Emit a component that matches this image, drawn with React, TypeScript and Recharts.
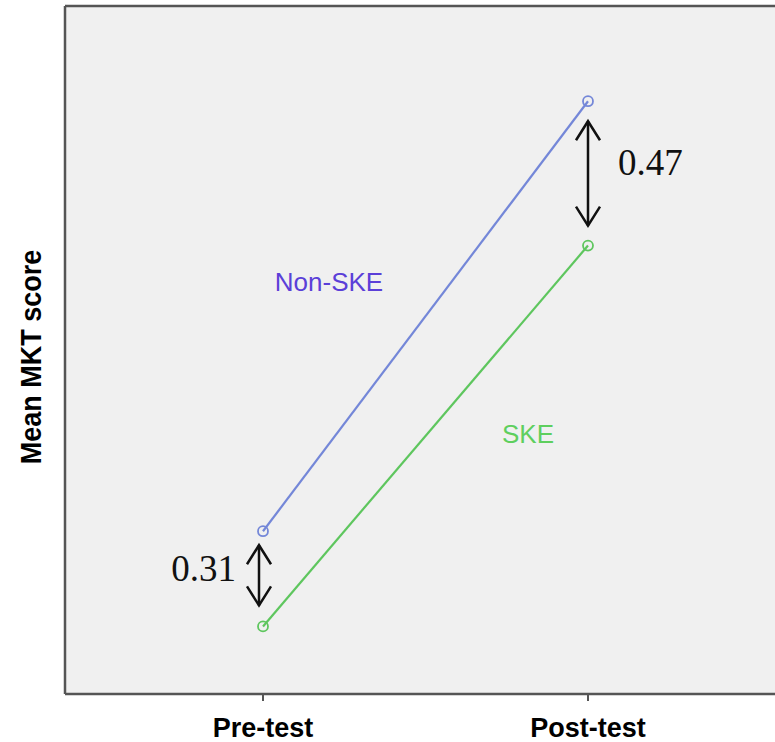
import React from "react";
import {
  CartesianGrid,
  Customized,
  Line,
  LineChart,
  ReferenceLine,
  XAxis,
  YAxis,
} from "recharts";

const phases = ["Pre-test", "Post-test"];
const nonSkeScores = [1.51, 2.91];
const skeScores = [1.2, 2.44];
const yDomain = [0.98, 3.22];

const NON_SKE_LINE = "#7487d8";
const SKE_LINE = "#5ec65e";
const BORDER = "#555555";
const SANS = "'Liberation Sans', Arial, sans-serif";
const SERIF = "'Liberation Serif', 'Times New Roman', serif";

const data = phases.map((phase, i) => ({
  phase,
  nonSke: nonSkeScores[i],
  ske: skeScores[i],
}));

// double-headed arrow between the two group means, with the gap as text
function makeArrow(
  gapTop: number,
  gapBottom: number,
  dx: number,
  label: string,
  side: "left" | "right",
  labelDy: number
) {
  return (props: any) => {
    const { x1, y1, y2 } = props;
    const x = x1 + dx;
    const top = Math.min(y1, y2) + gapTop;
    const bottom = Math.max(y1, y2) - gapBottom;
    const hw = 12;
    const hh = 19;
    const mid = (top + bottom) / 2;
    return (
      <g>
        <line x1={x} y1={top} x2={x} y2={bottom} stroke="#111" strokeWidth={2.5} />
        <polyline
          points={`${x - hw},${top + hh} ${x},${top} ${x + hw},${top + hh}`}
          fill="none"
          stroke="#111"
          strokeWidth={2.5}
        />
        <polyline
          points={`${x - hw},${bottom - hh} ${x},${bottom} ${x + hw},${bottom - hh}`}
          fill="none"
          stroke="#111"
          strokeWidth={2.5}
        />
        <text
          x={side === "right" ? x + 30 : x - 23}
          y={mid + labelDy}
          textAnchor={side === "right" ? "start" : "end"}
          fontFamily={SERIF}
          fontSize={37}
          fill="#111"
        >
          {label}
        </text>
      </g>
    );
  };
}

const preGap = (nonSkeScores[0] - skeScores[0]).toFixed(2);
const postGap = (nonSkeScores[1] - skeScores[1]).toFixed(2);

const GroupLabels = () => (
  <g fontFamily={SANS} fontSize={26}>
    <text x={329} y={291} textAnchor="middle" fill="#5b3fd8">
      Non-SKE
    </text>
    <text x={528} y={443} textAnchor="middle" fill="#5ecf5e">
      SKE
    </text>
    <text
      x={0}
      y={0}
      textAnchor="middle"
      fontWeight="bold"
      fontSize={27}
      fill="#000"
      transform="translate(41 357) rotate(-90) scale(1 1.12)"
    >
      Mean MKT score
    </text>
  </g>
);

export default function App() {
  return (
    <div style={{ position: "absolute", left: 0, top: 0, background: "#fff" }}>
      <LineChart
        width={775}
        height={742}
        data={data}
        margin={{ top: 0, right: 0, bottom: 0, left: 0 }}
      >
        <CartesianGrid fill="#f0f0f0" horizontal={false} vertical={false} />
        <XAxis
          dataKey="phase"
          padding={{ left: 198, right: 187 }}
          height={48}
          axisLine={{ stroke: BORDER, strokeWidth: 2.5 }}
          tickLine={{ stroke: BORDER, strokeWidth: 2 }}
          tickSize={7}
          tickMargin={17}
          tick={{ fontSize: 27, fontWeight: "bold", fill: "#000", fontFamily: SANS }}
        />
        <XAxis
          xAxisId="top"
          orientation="top"
          dataKey="phase"
          height={6}
          tick={false}
          tickLine={false}
          axisLine={{ stroke: BORDER, strokeWidth: 2.5 }}
        />
        <YAxis
          width={65}
          domain={yDomain}
          type="number"
          tick={false}
          tickLine={false}
          axisLine={{ stroke: BORDER, strokeWidth: 2.5 }}
        />
        <Line
          dataKey="nonSke"
          stroke={NON_SKE_LINE}
          strokeWidth={2.2}
          dot={{ r: 5, stroke: NON_SKE_LINE, strokeWidth: 1.8, fill: "none" }}
          activeDot={false}
          isAnimationActive={false}
        />
        <Line
          dataKey="ske"
          stroke={SKE_LINE}
          strokeWidth={2.2}
          dot={{ r: 5, stroke: SKE_LINE, strokeWidth: 1.8, fill: "none" }}
          activeDot={false}
          isAnimationActive={false}
        />
        <ReferenceLine
          segment={[
            { x: phases[0], y: skeScores[0] },
            { x: phases[0], y: nonSkeScores[0] },
          ]}
          shape={makeArrow(14, 21, -4, preGap, "left", 6)}
        />
        <ReferenceLine
          segment={[
            { x: phases[1], y: skeScores[1] },
            { x: phases[1], y: nonSkeScores[1] },
          ]}
          shape={makeArrow(20, 20, 0, postGap, "right", 2)}
        />
        <Customized component={GroupLabels} />
      </LineChart>
    </div>
  );
}
